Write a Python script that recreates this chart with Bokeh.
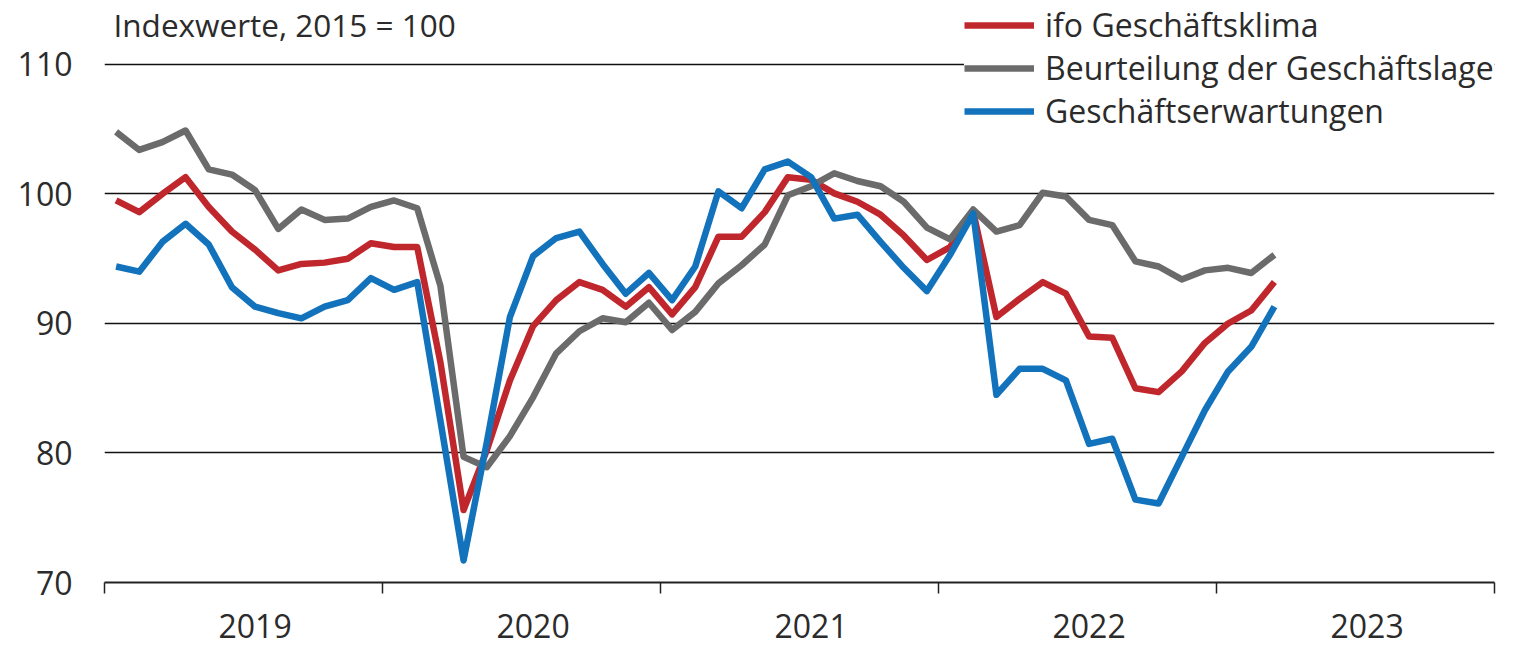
from bokeh.plotting import figure
from bokeh.models import FixedTicker, LinearAxis, Range1d, Legend, LegendItem, Label
from bokeh.embed import file_html
from bokeh.resources import INLINE

# ---- data (monthly, Jan 2019 - Mar 2023, index 2015 = 100) ----
years = ["2019", "2020", "2021", "2022", "2023"]
y_ticks = [70, 80, 90, 100, 110]

klima = [99.5, 98.6, 100.0, 101.3, 99.0, 97.1, 95.7, 94.1, 94.6, 94.7, 95.0, 96.2,
         95.9, 95.9, 87.0, 75.6, 80.2, 85.6, 89.8, 91.8, 93.2, 92.6, 91.3, 92.8,
         90.7, 92.8, 96.7, 96.7, 98.6, 101.3, 101.1, 100.05, 99.4, 98.4, 96.8, 94.9,
         95.9, 98.6, 90.5, 91.9, 93.2, 92.3, 89.0, 88.9, 85.0, 84.7, 86.3, 88.5,
         90.0, 91.0, 93.2]
lage = [104.8, 103.4, 104.0, 104.9, 101.9, 101.5, 100.3, 97.3, 98.8, 98.0, 98.1, 99.0,
        99.5, 98.9, 92.9, 79.7, 78.9, 81.3, 84.3, 87.7, 89.4, 90.4, 90.1, 91.6,
        89.5, 90.9, 93.1, 94.5, 96.1, 99.9, 100.6, 101.6, 101.0, 100.6, 99.4, 97.4,
        96.5, 98.8, 97.1, 97.6, 100.1, 99.8, 98.0, 97.6, 94.8, 94.4, 93.4, 94.1,
        94.3, 93.9, 95.3]
erwartungen = [94.4, 94.0, 96.3, 97.7, 96.1, 92.8, 91.3, 90.8, 90.4, 91.3, 91.8, 93.5,
               92.6, 93.2, 82.5, 71.7, 80.8, 90.5, 95.2, 96.6, 97.1, 94.6, 92.3, 93.9,
               91.8, 94.4, 100.2, 98.9, 101.9, 102.5, 101.3, 98.1, 98.4, 96.3, 94.3, 92.5,
               95.3, 98.5, 84.5, 86.5, 86.5, 85.6, 80.7, 81.1, 76.4, 76.1, 79.7, 83.3,
               86.3, 88.2, 91.3]

names = ["ifo Geschäftsklima", "Beurteilung der Geschäftslage", "Geschäftserwartungen"]
colors = ["#c0272d", "#6b6b6b", "#1272bb"]

# month positions: middle of each month, month index from Jan 2019
x = [i + 0.5 for i in range(len(klima))]
year_bounds = [12 * k for k in range(len(years) + 1)]
year_label_pos = [12 * k + 6.5 for k in range(len(years))]

FONT = "Open Sans"
TXT = "#2b2b2b"

p = figure(width=1517, height=647, output_backend="svg", toolbar_location=None,
           x_range=Range1d(0, 12 * len(years)), y_range=Range1d(70, 114.94),
           min_border_left=104, min_border_right=23, min_border_top=0, min_border_bottom=65)
p.outline_line_color = None
p.background_fill_color = "white"
p.border_fill_color = "white"

# grid
p.xgrid.grid_line_color = None
p.ygrid.ticker = FixedTicker(ticks=y_ticks)
p.ygrid.grid_line_color = "#111111"
p.ygrid.grid_line_width = 1.5

# y axis: labels only
p.yaxis.ticker = FixedTicker(ticks=y_ticks)
p.yaxis.axis_line_color = None
p.yaxis.major_tick_line_color = None
p.yaxis.minor_tick_line_color = None
p.yaxis.major_label_standoff = 26
p.yaxis.major_label_text_font = FONT
p.yaxis.major_label_text_font_size = "32px"
p.yaxis.major_label_text_color = TXT

# x axis 1: year boundary ticks
p.xaxis.ticker = FixedTicker(ticks=year_bounds)
p.xaxis.axis_line_color = "#222222"
p.xaxis.axis_line_width = 2
p.xaxis.major_tick_line_color = "#222222"
p.xaxis.major_tick_line_width = 1.5
p.xaxis.major_tick_out = 11
p.xaxis.major_tick_in = 0
p.xaxis.minor_tick_line_color = None
p.xaxis.major_label_text_font_size = "1px"
p.xaxis.major_label_text_color = None
p.xaxis.major_label_standoff = 0

# x axis 2: year labels
ax2 = LinearAxis(ticker=FixedTicker(ticks=year_label_pos),
                 major_label_overrides={m: y for m, y in zip(year_label_pos, years)})
ax2.axis_line_color = None
ax2.major_tick_line_color = None
ax2.minor_tick_line_color = None
ax2.major_tick_out = 0
ax2.major_tick_in = 0
ax2.major_label_standoff = 20
ax2.major_label_text_font = FONT
ax2.major_label_text_font_size = "32px"
ax2.major_label_text_color = TXT
p.add_layout(ax2, "below")

renderers = []
for series, c in zip([klima, lage, erwartungen], colors):
    r = p.line(x, series, line_color=c, line_width=6.5, line_join="round")
    renderers.append(r)

legend = Legend(items=[LegendItem(label=n, renderers=[r]) for n, r in zip(names, renderers)],
                location=(860, 450), orientation="vertical",
                glyph_width=70, glyph_height=30, label_height=30, spacing=0,
                padding=18, margin=0, label_standoff=11,
                label_text_font=FONT, label_text_font_size="32px", label_text_color=TXT,
                border_line_color=None, background_fill_color="white", background_fill_alpha=1.0)
p.add_layout(legend)

title = Label(x=9, y=558, x_units="screen", y_units="screen", text="Indexwerte, 2015 = 100",
              text_font=FONT, text_font_size="31.5px", text_color=TXT,
              text_align="left", text_baseline="middle")
p.add_layout(title)

open("out.html", "w").write(file_html(p, INLINE))
